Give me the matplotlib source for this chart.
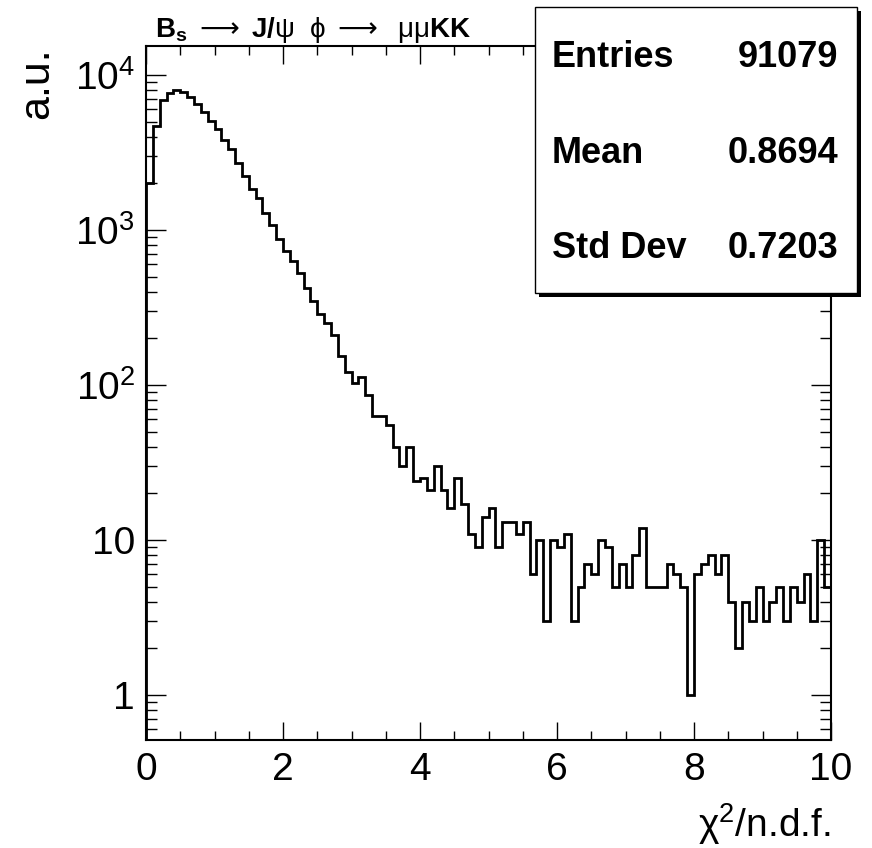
import numpy as np
import matplotlib
matplotlib.use("Agg")
import matplotlib.pyplot as plt
from matplotlib.ticker import MultipleLocator, LogLocator, FuncFormatter, NullFormatter
from matplotlib.patches import Rectangle

plt.rcParams["font.family"] = ["Liberation Sans", "DejaVu Sans"]
plt.rcParams["mathtext.fontset"] = "custom"
plt.rcParams["mathtext.rm"] = "Liberation Sans"
plt.rcParams["mathtext.bf"] = "Liberation Sans:bold"
plt.rcParams["mathtext.it"] = "Liberation Sans:italic"
plt.rcParams["mathtext.sf"] = "DejaVu Sans"

# chi2/ndf histogram, 100 bins from 0 to 10
bin_edges = np.linspace(0.0, 10.0, 101)
counts = [
    2000, 4690, 6900, 7620, 8000, 7800, 7250, 6500, 5790, 5070,
    4470, 3810, 3320, 2720, 2230, 1830, 1600, 1290, 1080, 871,
    735, 634, 526, 422, 348, 286, 252, 210, 154, 122,
    103, 113, 86, 63, 63, 55, 40, 30, 40, 24,
    25, 21, 30, 21, 16, 25, 17, 11, 9, 14,
    16, 9, 13, 13, 11, 13, 6, 10, 3, 10,
    9, 11, 3, 5, 7, 6, 10, 9, 5, 7,
    5, 8, 12, 5, 5, 5, 7, 6, 5, 1,
    6, 7, 8, 6, 8, 4, 2, 4, 3, 5,
    3, 4, 5, 3, 5, 4, 6, 3, 10, 5,
]
stat_names = ["Entries", "Mean", "Std Dev"]
stat_values = ["91079", "0.8694", "0.7203"]

W, H = 872, 848
fig = plt.figure(figsize=(W / 100, H / 100), dpi=100)


def fx(px):
    return px / W


def fy(py):
    return 1 - py / H


ax = fig.add_axes([fx(146), fy(740), fx(831) - fx(146), fy(46) - fy(740)])
ax.stairs(counts, bin_edges, color="black", linewidth=2.0)
ax.set_yscale("log")
ax.set_xlim(0, 10)
ax.set_ylim(0.513, 15380)

for s in ax.spines.values():
    s.set_linewidth(1.5)

ax.xaxis.set_major_locator(MultipleLocator(2))
ax.xaxis.set_minor_locator(MultipleLocator(0.5))
ax.yaxis.set_major_locator(LogLocator(base=10, numticks=10))
ax.yaxis.set_minor_locator(LogLocator(base=10, subs=np.arange(2, 10), numticks=20))
ax.yaxis.set_minor_formatter(NullFormatter())


def ylab(v, pos):
    e = int(round(np.log10(v)))
    if e == 0:
        return "1"
    if e == 1:
        return "10"
    return rf"$\mathregular{{10^{{{e}}}}}$"


ax.yaxis.set_major_formatter(FuncFormatter(ylab))
ax.xaxis.set_major_formatter(FuncFormatter(lambda v, p: f"{v:g}"))

ax.tick_params(which="both", direction="in", top=True, right=True, width=1.0, labelsize=28)
ax.tick_params(axis="x", which="major", length=13, pad=9)
ax.tick_params(axis="x", which="minor", length=6.5)
ax.tick_params(axis="y", which="major", length=14.5, pad=8)
ax.tick_params(axis="y", which="minor", length=8)

# title and axis labels
fig.text(fx(155), fy(37),
         r"$\mathbf{B_{s}}\ \mathsf{\longrightarrow}\ \mathbf{J/}\mathrm{\psi}\ \ \mathrm{\phi}\ \mathsf{\longrightarrow}\ \ \mathrm{\mu\mu}\mathbf{KK}$",
         fontsize=20, ha="left", va="baseline")
fig.text(fx(37), fy(47), "a.u.", rotation=90, fontsize=31, ha="center", va="top")
fig.text(fx(831), fy(837), r"$\mathregular{\chi^{2}}$/n.d.f.", fontsize=28, ha="right", va="baseline")

# stats box with shadow
bx0, by0, bx1, by1 = 535, 7, 857, 293
fig.patches.append(Rectangle((fx(bx0 + 4), fy(by1 + 4)), fx(bx1) - fx(bx0), fy(by0) - fy(by1),
                             transform=fig.transFigure, facecolor="black", edgecolor="none", zorder=5))
fig.patches.append(Rectangle((fx(bx0), fy(by1)), fx(bx1) - fx(bx0), fy(by0) - fy(by1),
                             transform=fig.transFigure, facecolor="white", edgecolor="black",
                             linewidth=1.0, zorder=6))
for name, val, base in zip(stat_names, stat_values, [67, 163, 258]):
    fig.text(fx(552), fy(base), name, fontsize=26, fontweight="bold", ha="left", va="baseline", zorder=7)
    fig.text(fx(838), fy(base), val, fontsize=26, fontweight="bold", ha="right", va="baseline", zorder=7)

fig.savefig("out.png", dpi=100)
